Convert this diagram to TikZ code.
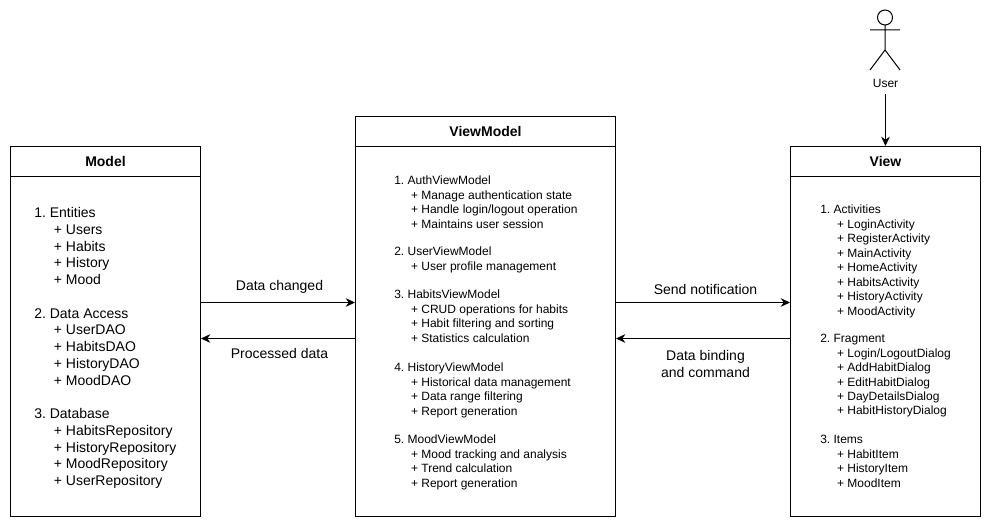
\documentclass[tikz,border=0pt]{standalone}
\usepackage{fontspec}
\setmainfont{Liberation Sans}
\usepackage{tikz}
\usetikzlibrary{arrows.meta,positioning,calc}

\frenchspacing
\newcommand{\itm}{\\\hspace*{1.4em}+ }

\tikzset{
	head/.style={draw,line width=0.75pt,minimum height=22.5pt,font=\bfseries\fontsize{10.5}{12.6}\selectfont},
	body/.style={draw,line width=0.75pt},
	biglist/.style={anchor=north west,inner sep=0pt,align=left,font=\fontsize{10.5}{12.6}\selectfont},
	smalllist/.style={anchor=north west,inner sep=0pt,align=left,font=\fontsize{9}{10.85}\selectfont},
	flowlabel/.style={inner sep=0pt,align=center,font=\fontsize{10.5}{12.6}\selectfont},
	flow/.style={-{Stealth[length=7pt,width=6.5pt]},line width=0.75pt},
}

\begin{document}
\begin{tikzpicture}[x=0.75pt,y=-0.75pt]
	\useasboundingbox (0,0) rectangle (991,528);

	% boxes
	\node[head,minimum width=142.5pt] (modelhead) at (105.5,161.5) {Model};
	\node[body,minimum width=142.5pt,minimum height=255pt,below=-0.75pt of modelhead,inner sep=0pt] (modelbody) {};
	\node[head,minimum width=195pt] (vmhead) at (485.5,131.5) {ViewModel};
	\node[body,minimum width=195pt,minimum height=277.5pt,below=-0.75pt of vmhead,inner sep=0pt] (vmbody) {};
	\node[head,minimum width=142.5pt] (viewhead) at (885.5,161.5) {View};
	\node[body,minimum width=142.5pt,minimum height=255pt,below=-0.75pt of viewhead,inner sep=0pt] (viewbody) {};

	% model text
	\node[biglist] (entities) at (34,207) {1. Entities\itm Users\itm Habits\itm History\itm Mood};
	\node[biglist] (dataaccess) at (34,308) {2. Data Access\itm UserDAO\itm HabitsDAO\itm HistoryDAO\itm MoodDAO};
	\node[biglist] (database) at (34,408) {3. Database\itm HabitsRepository\itm HistoryRepository\itm MoodRepository\itm UserRepository};

	% viewmodel text
	\node[smalllist] (auth) at (394,176) {1. AuthViewModel\itm Manage authentication state\itm Handle login/logout operation\itm Maintains user session};
	\node[smalllist] (user) at (394,247) {2. UserViewModel\itm User profile management};
	\node[smalllist] (habits) at (394,290) {3. HabitsViewModel\itm CRUD operations for habits\itm Habit filtering and sorting\itm Statistics calculation};
	\node[smalllist] (history) at (394,363) {4. HistoryViewModel\itm Historical data management\itm Data range filtering\itm Report generation};
	\node[smalllist] (mood) at (394,435) {5. MoodViewModel\itm Mood tracking and analysis\itm Trend calculation\itm Report generation};

	% view text
	\node[smalllist] (activities) at (820,205) {1. Activities\itm LoginActivity\itm RegisterActivity\itm MainActivity\itm HomeActivity\itm HabitsActivity\itm HistoryActivity\itm MoodActivity};
	\node[smalllist] (fragment) at (820,334) {2. Fragment\itm Login/LogoutDialog\itm AddHabitDialog\itm EditHabitDialog\itm DayDetailsDialog\itm HabitHistoryDialog};
	\node[smalllist] (items) at (820,435) {3. Items\itm HabitItem\itm HistoryItem\itm MoodItem};

	% actor
	\draw[line width=0.75pt] (885,17.5) circle (7.5);
	\draw[line width=0.75pt] (885,25) -- (885,50) (870,30) -- (900,30) (870,70) -- (885,50) -- (900,70);
	\node[inner sep=0pt,font=\fontsize{9}{10.8}\selectfont] (actor) at (885.5,83) {User};

	% arrows
	\coordinate (modelout) at (modelbody.east |- 0,302.5);
	\coordinate (vmin) at (vmbody.west |- 0,302.5);
	\coordinate (vmout) at (vmbody.west |- 0,338.5);
	\coordinate (modelin) at (modelbody.east |- 0,338.5);
	\coordinate (vmnotify) at (vmbody.east |- 0,302.5);
	\coordinate (viewin) at (viewbody.west |- 0,302.5);
	\coordinate (viewout) at (viewbody.west |- 0,338.5);
	\coordinate (vmbind) at (vmbody.east |- 0,338.5);
	\coordinate (actorout) at (885.5,94);

	\draw[flow] (modelout) -- (vmin);
	\draw[flow] (vmout) -- (modelin);
	\draw[flow] (vmnotify) -- (viewin);
	\draw[flow] (viewout) -- (vmbind);
	\draw[flow] (actorout) -- (viewhead.north);

	\node[flowlabel] (changed) at (279.5,287) {Data changed};
	\node[flowlabel] (processed) at (279.5,353) {Processed data};
	\node[flowlabel] (notification) at (705.5,289) {Send notification};
	\node[flowlabel] (binding) at (705.5,364) {Data binding\\and command};
\end{tikzpicture}
\end{document}
